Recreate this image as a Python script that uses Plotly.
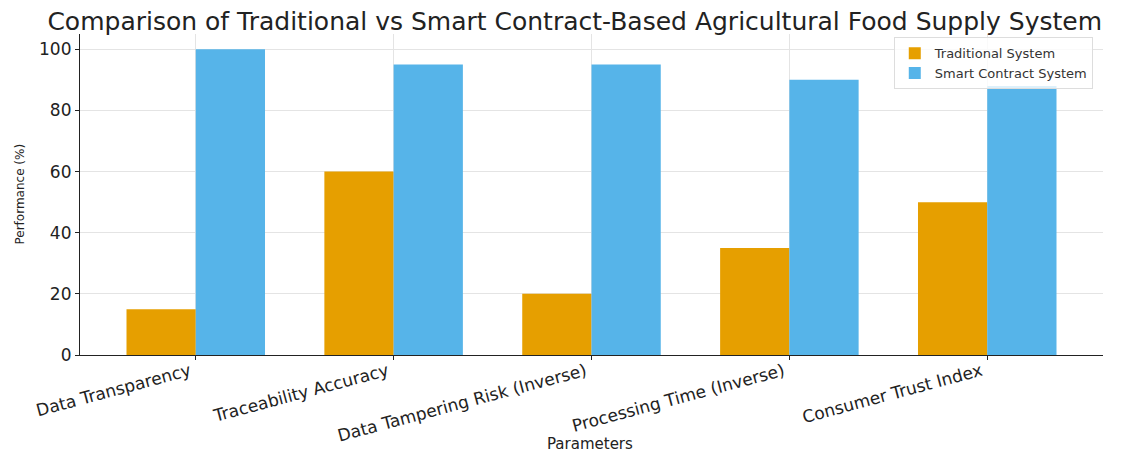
import plotly.graph_objects as go

categories = ["Data Transparency", "Traceability Accuracy", "Data Tampering Risk (Inverse)",
              "Processing Time (Inverse)", "Consumer Trust Index"]
traditional = [15, 60, 20, 35, 50]
smart = [100, 95, 95, 90, 88]
series_names = ["Traditional System", "Smart Contract System"]
y_ticks = [0, 20, 40, 60, 80, 100]

font = "DejaVu Sans"
x = list(range(len(categories)))
w = 0.35

# page body adds an 8px offset; size figure to fill the remaining window
W, H = 1120, 446
L, R, T, B = 72, 25, 26, 99
plot_w = W - L - R
plot_h = H - T - B

fig = go.Figure()
fig.add_trace(go.Bar(x=[i - w / 2 for i in x], y=traditional, width=w, name=series_names[0],
                     marker=dict(color="#E69F00", line=dict(width=0))))
fig.add_trace(go.Bar(x=[i + w / 2 for i in x], y=smart, width=w, name=series_names[1],
                     marker=dict(color="#56B4E9", line=dict(width=0))))

fig.update_layout(
    width=W, height=H,
    margin=dict(l=L, r=R, t=T, b=B, autoexpand=False),
    plot_bgcolor="white", paper_bgcolor="white",
    font=dict(family=font, color="#222"),
    title=dict(text="Comparison of Traditional vs Smart Contract-Based Agricultural Food Supply System",
               x=0.506, xanchor="center", y=1 - 13 / H, yanchor="middle",
               font=dict(size=25, family=font, color="#222")),
    barmode="overlay", showlegend=True,
    legend=dict(x=0.99, y=0.99, xanchor="right", yanchor="top",
                bgcolor="rgba(255,255,255,0.8)", bordercolor="#ddd", borderwidth=1,
                font=dict(size=13, family=font, color="#333"), tracegroupgap=0,
                itemwidth=30),
    xaxis=dict(range=[-0.585, 4.585], tickmode="array", tickvals=x, ticktext=categories,
               tickangle=-15, tickfont=dict(size=17, family=font, color="#222"),
               ticklabelshift=-6, ticklabelstandoff=-5,
               showgrid=True, gridcolor="#e4e4e4", gridwidth=1,
               showline=True, linecolor="#222", linewidth=1.2,
               ticks="outside", ticklen=4, tickcolor="#222", automargin=False,
               zeroline=False),
    yaxis=dict(range=[0, 105], tickmode="array", tickvals=y_ticks,
               tickfont=dict(size=17, family=font, color="#222"),
               showgrid=True, gridcolor="#e4e4e4", gridwidth=1,
               showline=True, linecolor="#222", linewidth=1.2,
               ticks="outside", ticklen=4, tickcolor="#222", automargin=False,
               zeroline=False),
    annotations=[
        dict(text="Performance (%)", xref="paper", yref="paper",
             x=(11 - L) / plot_w, y=0.5, xanchor="center", yanchor="middle",
             textangle=-90, showarrow=False, font=dict(size=12, family=font, color="#222")),
        dict(text="Parameters", xref="paper", yref="paper",
             x=0.4985, y=-(436 - (H - B)) / plot_h, xanchor="center", yanchor="middle",
             showarrow=False, font=dict(size=15, family=font, color="#222")),
    ],
)

fig.write_html("out.html")
